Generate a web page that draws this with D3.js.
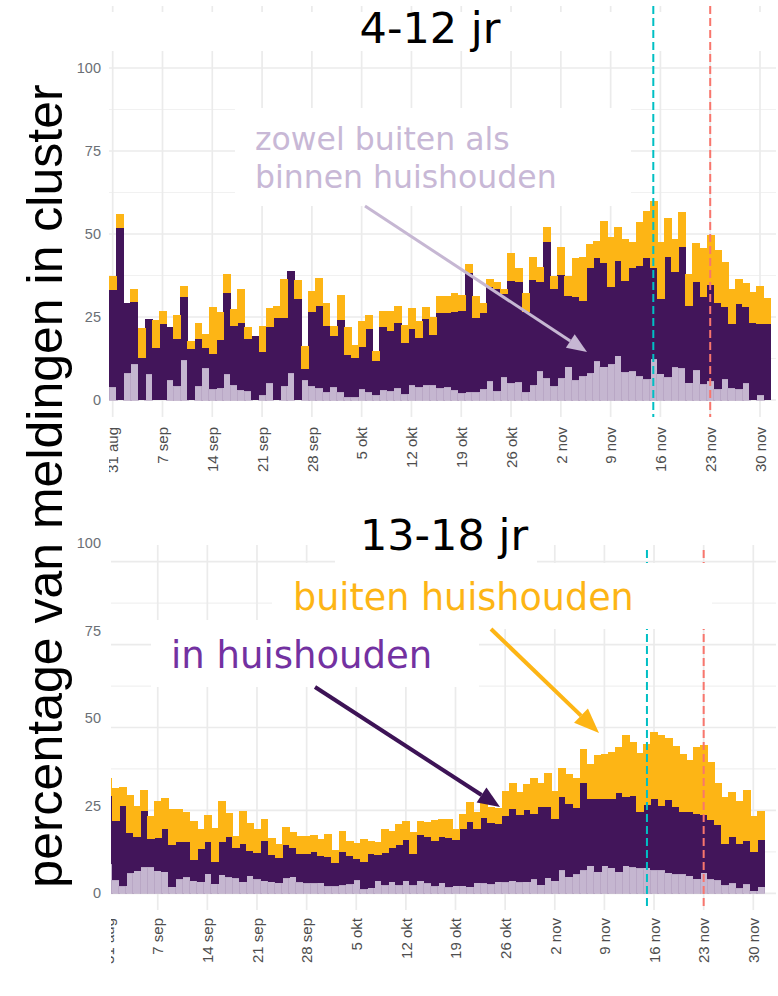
<!DOCTYPE html>
<html>
<head>
<meta charset="utf-8">
<script src="https://cdn.jsdelivr.net/npm/d3@7"></script>
<style>
  body { margin: 0; background: #fff; }
  svg { display: block; }
</style>
</head>
<body>
<div id="chart"></div>
<script>
// ---- data: % of reports in cluster, per day 31 aug - 1 dec ----
var dagen = d3.utcDays(new Date(Date.UTC(2020, 7, 31)), new Date(Date.UTC(2020, 11, 2)));

var tickLabels = ["31 aug", "7 sep", "14 sep", "21 sep", "28 sep", "5 okt", "12 okt",
                  "19 okt", "26 okt", "2 nov", "9 nov", "16 nov", "23 nov", "30 nov"];
var yTicks = [0, 25, 50, 75, 100];
var markerDagen = [new Date(Date.UTC(2020, 10, 15)), new Date(Date.UTC(2020, 10, 23))];

// 4-12 jr
var jong_beide = [3.8,0,8.0,10.8,0,7.8,0,0,6.0,4.2, 11.9,0,4.2,9.5,3.2,3.5,7.8,4.5,3.0,2.6,
  0,1.5,5.0,0,4.2,8.0,0,6.0,4.2,3.5, 2.4,3.8,2.3,0.8,0.8,3.2,2.3,1.5,2.9,2.6,
  3.5,1.8,4.5,3.8,4.5,4.5,3.5,3.8,2.9,2.0, 2.3,2.3,3.2,5.6,2.6,6.8,5.0,5.4,2.4,4.5,
  8.7,6.5,4.2,6.5,10.0,6.0,7.2,8.0,11.6,10.0, 10.8,13.3,8.4,8.6,7.2,6.2,12.2,7.9,6.8,9.8,
  9.5,5.2,8.9,4.7,5.7,3.3,6.2,3.5,3.2,5.0, 0,1.5,0];
var jong_binnen = [29.3,51.7,21.1,18.6,12.6,16.5,15.6,22.9,16.1,14.2, 19.0,15.4,14.2,6.1,10.7,14.5,24.3,17.8,20.1,15.8,
  19.3,12.9,17.1,24.7,20.5,30.9,30.4,3.3,22.2,24.7, 19.9,15.6,21.7,12.8,12.0,12.7,19.0,10.3,19.1,18.2,
  19.6,15.4,16.8,15.0,19.9,15.1,22.6,22.3,23.5,24.7, 35.9,22.4,23.1,28.5,30.7,25.1,30.9,30.1,24.2,31.6,
  26.8,41.0,29.1,31.1,21.3,24.9,22.7,31.9,31.3,31.4, 23.1,28.6,27.5,31.1,33.2,36.7,27.7,22.5,36.4,28.8,
  36.7,23.0,26.5,26.4,29.0,25.8,21.9,19.4,25.6,23.1, 23.3,21.4,22.9];
var jong_buiten = [4.3,4.2,0,4.0,9.0,0,8.5,3.8,0,7.1, 3.3,2.4,4.7,4.3,14.0,8.4,5.8,5.1,10.2,3.6,
  0,7.9,5.6,3.5,11.6,0,5.6,7.0,6.4,8.4, 7.0,2.9,7.5,8.4,3.7,7.9,4.2,2.9,4.7,5.9,
  5.1,5.3,6.5,5.0,3.5,5.4,5.1,5.1,5.7,4.8, 2.7,6.5,3.0,2.2,2.2,1.4,8.3,4.4,5.5,6.9,
  4.7,4.7,4.0,8.6,6.1,11.8,13.3,7.0,5.1,12.4, 15.1,10.3,12.7,8.0,13.1,13.9,19.9,17.1,11.7,10.0,
  10.5,9.8,12.0,14.6,15.1,16.0,13.5,10.6,7.5,7.0, 9.1,11.5,7.7];

// 13-18 jr
var oud_beide = [8.8,4.0,2.2,6.0,6.8,7.8,7.8,6.8,6.5,2.0, 4.2,4.8,3.8,3.5,5.9,2.9,5.6,4.8,4.5,3.5,
  5.3,4.3,3.8,3.5,3.2,4.5,5.0,3.3,3.0,3.0, 3.2,2.2,2.2,2.5,2.7,4.0,1.2,1.7,3.8,2.4,
  3.5,2.5,3.8,2.4,3.8,3.0,2.2,3.2,1.8,2.3, 2.3,2.0,3.2,3.0,2.8,3.5,3.3,3.8,3.3,3.5,
  4.3,2.6,4.7,3.8,7.0,5.0,5.8,7.0,8.3,6.5, 8.3,7.7,6.5,8.3,7.8,7.5,7.7,7.0,7.0,6.2,
  5.8,5.8,5.3,4.4,6.2,4.3,4.0,2.5,3.0,1.5, 2.8,0.8,2.0];
var oud_binnen = [20.5,17.9,24.1,12.3,10.3,17.1,8.7,10.0,12.9,12.7, 11.4,10.8,6.1,10.0,9.6,6.6,9.9,12.2,9.3,11.5,
  7.6,8.0,12.0,8.1,7.3,10.1,8.8,8.7,9.0,9.6, 7.9,8.6,7.0,9.9,8.6,6.3,8.3,10.1,7.8,9.7,
  10.3,12.1,12.3,9.4,13.8,14.1,13.7,13.9,14.8,13.8, 17.1,19.5,16.1,19.7,18.3,17.4,20.1,21.5,20.3,21.6,
  19.6,23.3,21.2,18.6,22.1,21.8,19.8,26.2,20.0,21.8, 20.0,20.6,23.7,20.7,21.6,17.1,18.8,21.3,19.3,21.8,
  20.1,18.8,19.3,19.6,17.4,17.8,16.6,12.4,13.9,13.4, 13.0,11.8,14.1];
var oud_buiten = [5.4,9.8,5.7,11.2,9.2,6.2,6.8,11.0,9.3,10.6, 9.7,8.9,11.9,5.9,8.0,10.2,12.3,7.2,3.5,9.7,
  8.3,7.1,6.5,5.1,4.4,5.4,4.7,5.3,5.3,5.0, 5.4,7.1,3.9,6.4,4.6,4.8,6.9,4.0,4.0,7.3,
  5.0,6.2,5.7,6.8,4.2,4.3,6.1,5.2,5.7,3.2, 4.4,6.0,5.3,5.4,5.0,4.7,7.3,7.9,6.8,7.8,
  10.8,7.3,10.3,8.5,8.8,9.1,9.1,10.2,10.6,13.3, 13.6,14.4,14.0,18.8,16.3,17.6,18.4,20.4,21.4,18.7,
  18.6,17.3,15.6,20.2,21.0,17.6,12.8,14.1,13.6,12.9, 15.3,10.7,8.8];

// ---- layout ----
var svgWidth = 778, svgHeight = 996;
var keys = ["beide", "binnen", "buiten"];
var kleuren = {beide: "#c5b6d0", binnen: "#42155a", buiten: "#fdb515"};
var markerKleuren = ["#00bfc4", "#f8766d"];
var tickDagen = dagen.filter(function(d, i) { return i % 7 === 0 && i <= 91; });

var panels = [
  {titel: "4-12 jr", beide: jong_beide, binnen: jong_binnen, buiten: jong_buiten,
   x0: 112.7, x1: 760, y0: 400, y100: 68, lab0: 400, lab100: 68,
   top: 6, bottom: 417, left: 109, right: 776, tickTop: 427, lineTop: 6,
   titleX: 430, titleY: 43,
   band: {x: 0, y: 12, w: 778, h: 39},
   boxes: [{x: 235, y: 108, w: 396, h: 98}]},
  {titel: "13-18 jr", beide: oud_beide, binnen: oud_binnen, buiten: oud_buiten,
   x0: 108.1, x1: 753.3, y0: 893.3, y100: 561.7, lab0: 893.3, lab100: 543.3,
   top: 545, bottom: 910, left: 111, right: 776, tickTop: 918, lineTop: 550,
   titleX: 444, titleY: 550,
   band: null,
   boxes: [{x: 335, y: 500, w: 202, h: 63}, {x: 272, y: 563, w: 440, h: 66}, {x: 151, y: 620, w: 328, h: 67}]}
];

var svg = d3.select("#chart")
  .append("svg")
  .attr("width", svgWidth)
  .attr("height", svgHeight);

panels.forEach(function(p, pi) {
  var x = d3.scaleUtc().domain([dagen[0], dagen[91]]).range([p.x0, p.x1]);
  var y = d3.scaleLinear().domain([0, 100]).range([p.y0, p.y100]);
  var yLab = d3.scaleLinear().domain([0, 100]).range([p.lab0, p.lab100]);
  var bw = x(dagen[1]) - x(dagen[0]);

  var clipId = "clip" + pi;
  svg.append("clipPath").attr("id", clipId)
    .append("rect")
    .attr("x", p.left).attr("y", 0)
    .attr("width", svgWidth - p.left).attr("height", svgHeight);

  var g = svg.append("g");

  // grid
  var minor = [12.5, 37.5, 62.5, 87.5];
  g.selectAll(".minor").data(minor).enter().append("line")
    .attr("x1", p.left).attr("x2", p.right)
    .attr("y1", d => y(d)).attr("y2", d => y(d))
    .attr("stroke", "#f1f1f1").attr("stroke-width", 1.2);
  g.selectAll(".major").data(yTicks).enter().append("line")
    .attr("x1", p.left).attr("x2", p.right)
    .attr("y1", d => y(d)).attr("y2", d => y(d))
    .attr("stroke", "#ebebeb").attr("stroke-width", 1.7);
  g.append("g").attr("clip-path", "url(#" + clipId + ")")
    .selectAll("line").data(tickDagen).enter().append("line")
    .attr("x1", d => x(d)).attr("x2", d => x(d))
    .attr("y1", p.top).attr("y2", p.bottom)
    .attr("stroke", "#ebebeb").attr("stroke-width", 1.7);

  if (p.band) {
    g.append("rect").attr("x", p.band.x).attr("y", p.band.y)
      .attr("width", p.band.w).attr("height", p.band.h).attr("fill", "#fff");
  }

  // stacked bars
  var rows = dagen.map(function(d, i) {
    return {datum: d, beide: p.beide[i], binnen: p.binnen[i], buiten: p.buiten[i]};
  });
  var series = d3.stack().keys(keys)(rows);

  var bars = g.append("g").attr("clip-path", "url(#" + clipId + ")");
  series.forEach(function(s) {
    bars.append("g")
      .attr("shape-rendering", "crispEdges")
      .selectAll("rect")
      .data(s.filter(d => d[1] - d[0] > 0))
      .enter()
      .append("rect")
      .attr("x", d => x(d.data.datum) - bw / 2)
      .attr("width", bw + 0.8)
      .attr("y", d => y(d[1]))
      .attr("height", d => y(d[0]) - y(d[1]))
      .attr("fill", kleuren[s.key])
      .attr("stroke", s.key === "beide" ? "#b09cbe" : "none")
      .attr("stroke-width", 0.6);
  });

  // dashed lines
  g.selectAll(".marker").data(markerDagen).enter().append("line")
    .attr("x1", d => x(d)).attr("x2", d => x(d))
    .attr("y1", p.lineTop).attr("y2", p.bottom)
    .attr("stroke", (d, i) => markerKleuren[i])
    .attr("stroke-width", 2)
    .attr("stroke-dasharray", "8,4");

  // white boxes behind annotations
  p.boxes.forEach(function(b) {
    g.append("rect").attr("x", b.x).attr("y", b.y)
      .attr("width", b.w).attr("height", b.h).attr("fill", "#fff");
  });

  // axes
  var left = d3.axisLeft(yLab).tickValues(yTicks).tickSize(0).tickPadding(0);
  var ya = g.append("g").attr("transform", "translate(101,0)").call(left);
  ya.select(".domain").remove();
  ya.selectAll("text")
    .attr("font-family", "'Liberation Sans', Arial, sans-serif")
    .attr("font-size", 14.5)
    .attr("fill", "#6a6f75");

  var bottom = d3.axisBottom(x).tickValues(tickDagen)
    .tickFormat((d, i) => tickLabels[i]).tickSize(0);
  var xa = g.append("g")
    .attr("clip-path", "url(#" + clipId + ")")
    .append("g")
    .attr("transform", `translate(0, ${p.tickTop})`)
    .call(bottom);
  xa.select(".domain").remove();
  xa.selectAll("text")
    .attr("x", 0).attr("y", 0).attr("dy", "0.35em")
    .attr("transform", "rotate(-90)")
    .attr("text-anchor", "end")
    .attr("font-family", "'Liberation Sans', Arial, sans-serif")
    .attr("font-size", 15)
    .attr("fill", "#4d4d4d");

  // title
  g.append("text")
    .attr("x", p.titleX).attr("y", p.titleY)
    .attr("text-anchor", "middle")
    .attr("font-family", "'DejaVu Sans', Verdana, sans-serif")
    .attr("font-size", 43)
    .attr("fill", "#000")
    .text(p.titel);
});

// annotations
var annFont = "'DejaVu Sans', Verdana, sans-serif";
function arrow(x1, y1, x2, y2, kleur, breedte, len, half) {
  var a = Math.atan2(y2 - y1, x2 - x1);
  var bx = x2 - len * Math.cos(a), by = y2 - len * Math.sin(a);
  svg.append("line")
    .attr("x1", x1).attr("y1", y1).attr("x2", bx).attr("y2", by)
    .attr("stroke", kleur).attr("stroke-width", breedte);
  var px = -Math.sin(a) * half, py = Math.cos(a) * half;
  svg.append("polygon")
    .attr("points", [[x2, y2], [bx + px, by + py], [bx - px, by - py]].map(q => q.join(",")).join(" "))
    .attr("fill", kleur);
}

svg.append("text").attr("x", 255).attr("y", 150)
  .attr("font-family", annFont).attr("font-size", 31.5).attr("fill", "#c8b8d6")
  .text("zowel buiten als");
svg.append("text").attr("x", 255).attr("y", 188)
  .attr("font-family", annFont).attr("font-size", 31.5).attr("fill", "#c8b8d6")
  .text("binnen huishouden");
arrow(365, 206, 587, 352, "#c6b7d3", 3, 20, 8);

svg.append("text").attr("x", 293).attr("y", 610)
  .attr("font-family", annFont).attr("font-size", 36.5).attr("fill", "#fdb515")
  .text("buiten huishouden");
arrow(491, 629, 599, 733, "#fdb515", 4, 25, 10);

svg.append("text").attr("x", 171).attr("y", 668)
  .attr("font-family", annFont).attr("font-size", 37).attr("fill", "#7331a1")
  .text("in huishouden");
arrow(315, 687, 500, 807, "#3d1356", 4, 22, 9);

// y label
svg.append("text")
  .attr("transform", "translate(62, 486) rotate(-90)")
  .attr("text-anchor", "middle")
  .attr("font-family", "'Liberation Sans', Arial, sans-serif")
  .attr("font-size", 50)
  .attr("fill", "#000")
  .text("percentage van meldingen in cluster");
</script>
</body>
</html>
